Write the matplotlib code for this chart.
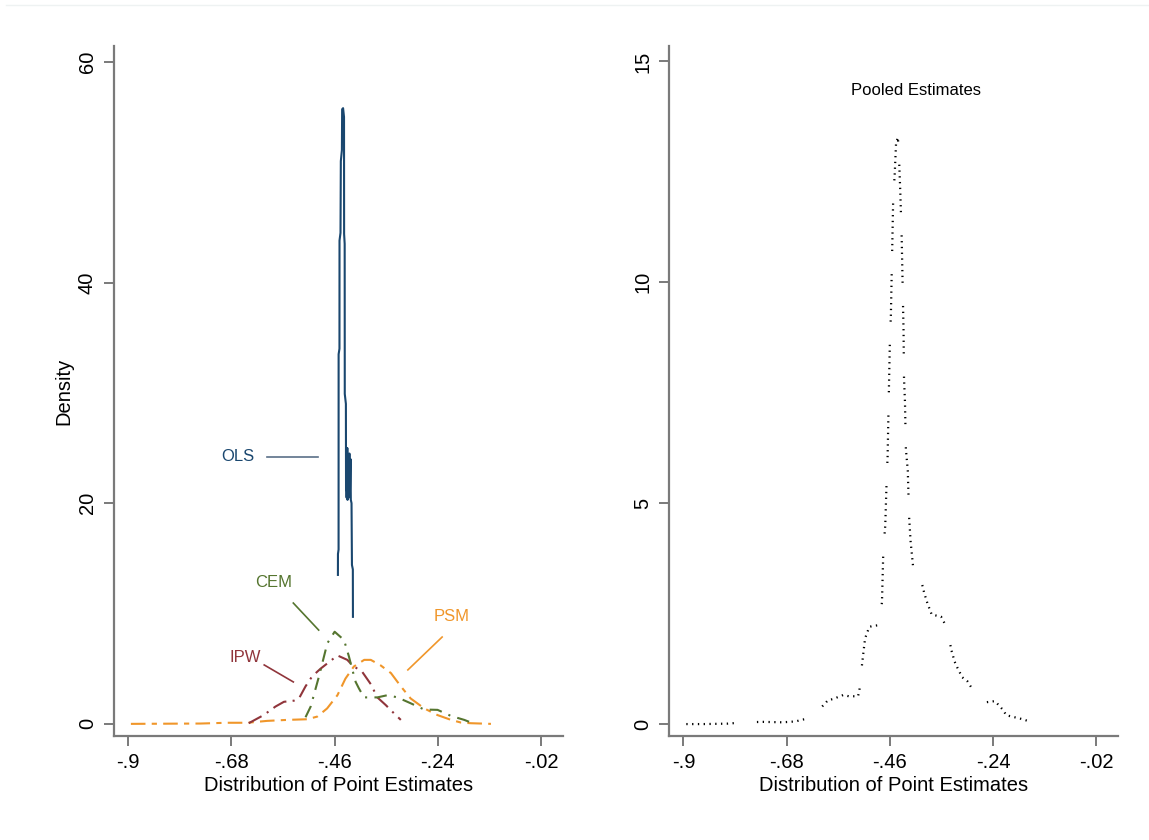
import matplotlib.pyplot as plt
from matplotlib.lines import Line2D

plt.rcParams['font.family'] = ['Liberation Sans', 'DejaVu Sans']

# --- data ---
ols_x = [-0.4530, -0.4529, -0.4516, -0.4515, -0.4497, -0.4496, -0.4475, -0.4468,
         -0.4445, -0.4440, -0.4420, -0.4400, -0.4398, -0.4386, -0.4384, -0.4360,
         -0.4357, -0.4350, -0.4345, -0.4340, -0.4336, -0.4330, -0.4325, -0.4320,
         -0.4300, -0.4285, -0.4275, -0.4262, -0.4255, -0.4240, -0.4231, -0.4212, -0.4210]
ols_y = [13.5, 15.4, 15.8, 33.5, 34.0, 43.8, 44.5, 51.0,
         52.0, 55.7, 55.8, 55.0, 44.4, 43.5, 29.9, 29.0,
         21.2, 25.0, 20.5, 24.5, 21.0, 25.0, 20.3, 24.0,
         20.5, 24.5, 20.8, 24.0, 20.3, 20.0, 14.4, 14.0, 9.7]

cem_x = [-0.522, -0.511, -0.4935, -0.4756, -0.460, -0.440, -0.4295, -0.4222, -0.4152,
         -0.4081, -0.3974, -0.3831, -0.3688, -0.3475, -0.3261, -0.2977, -0.2693,
         -0.2407, -0.2123, -0.1838, -0.1695]
cem_y = [0.6, 1.57, 4.28, 7.3, 8.35, 7.6, 6.1, 4.9, 3.8,
         3.2, 2.4, 2.4, 2.4, 2.6, 2.4, 1.86, 1.3,
         1.27, 0.72, 0.36, 0.12]

ipw_x = [-0.643, -0.611, -0.586, -0.568, -0.547, -0.536, -0.522, -0.508, -0.490,
         -0.472, -0.454, -0.433, -0.422, -0.401, -0.383, -0.369, -0.351, -0.333, -0.319]
ipw_y = [0.06, 0.8, 1.57, 2.0, 2.1, 2.3, 3.4, 4.3, 5.0,
         5.6, 6.2, 5.8, 5.3, 4.7, 3.6, 2.4, 1.7, 0.93, 0.36]

psm_x = [-0.894, -0.800, -0.746, -0.690, -0.646, -0.604, -0.561, -0.518, -0.497,
         -0.476, -0.454, -0.437, -0.419, -0.397, -0.383, -0.362, -0.340, -0.319,
         -0.298, -0.269, -0.241, -0.212, -0.191, -0.170, -0.127]
psm_y = [0.0, 0.02, 0.03, 0.1, 0.1, 0.27, 0.36, 0.42, 0.66,
         1.4, 2.6, 4.1, 5.2, 5.8, 5.8, 5.3, 4.6, 3.4,
         2.3, 1.4, 0.8, 0.36, 0.12, 0.06, 0.0]

pool_x = [-0.894, -0.883, -0.871, -0.859, -0.806, -0.770, -0.730, -0.689, -0.661,
          -0.647, -0.636, -0.626, -0.592, -0.580, -0.569, -0.559, -0.548, -0.528,
          -0.525, -0.523, -0.520, -0.516, -0.513, -0.504, -0.497, -0.483, -0.477,
          -0.474, -0.470, -0.467, -0.465, -0.463, -0.462, -0.460, -0.458, -0.456,
          -0.455, -0.453, -0.450, -0.447, -0.443, -0.440, -0.438, -0.435, -0.434,
          -0.432, -0.431, -0.430, -0.428, -0.426, -0.422, -0.419, -0.416, -0.410,
          -0.396, -0.387, -0.380, -0.371, -0.351, -0.344, -0.336, -0.329, -0.322,
          -0.316, -0.306, -0.295, -0.283, -0.258, -0.236, -0.219, -0.212, -0.177,
          -0.166]
pool_y = [0.0, 0.0, 0.0, 0.0, 0.01, 0.04, 0.05, 0.04, 0.06,
          0.1, 0.12, 0.15, 0.54, 0.57, 0.62, 0.66, 0.63, 0.63,
          0.77, 1.0, 1.3, 1.67, 1.94, 2.2, 2.22, 2.24, 2.76,
          3.97, 4.49, 5.53, 6.05, 7.13, 7.69, 8.73, 9.25, 10.33,
          10.85, 11.93, 12.41, 13.14, 13.28, 12.63, 12.06, 11.02, 10.5,
          9.42, 8.9, 7.82, 7.3, 6.22, 5.74, 4.66, 4.14, 3.49,
          3.36, 2.97, 2.73, 2.48, 2.43, 2.29, 2.05, 1.67, 1.41,
          1.27, 1.06, 0.97, 0.77, 0.49, 0.52, 0.32, 0.2, 0.11,
          0.07]

xticks = [-0.9, -0.68, -0.46, -0.24, -0.02]
xtick_labels = ['-.9', '-.68', '-.46', '-.24', '-.02']
left_yticks = [0, 20, 40, 60]
right_yticks = [0, 5, 10, 15]

navy = '#1a476f'
maroon = '#90353b'
green = '#55752f'
orange = '#f0962a'
spine_col = '#7a7a7a'


def style_axes(ax, yticks, ylim):
    ax.set_xlim(-0.931, 0.026)
    ax.set_ylim(*ylim)
    ax.set_xticks(xticks)
    ax.set_xticklabels(xtick_labels)
    ax.set_yticks(yticks)
    ax.set_yticklabels([str(t) for t in yticks], rotation=90, va='center')
    for s in ['top', 'right']:
        ax.spines[s].set_visible(False)
    for s in ['left', 'bottom']:
        ax.spines[s].set_color(spine_col)
        ax.spines[s].set_linewidth(1.6)
    ax.tick_params(colors=spine_col, labelcolor='black', width=1.4, length=7,
                   labelsize=14.5, pad=5)
    ax.set_xlabel('Distribution of Point Estimates', fontsize=14.5, labelpad=3)


fig = plt.figure(figsize=(11.49, 8.4), dpi=100)
fig.add_artist(Line2D([0.005, 1.0], [1 - 5 / 840, 1 - 5 / 840], color='#eef2f2', lw=1))

ax1 = fig.add_axes([0.0988, 0.1238, 0.391, 0.821])
ax2 = fig.add_axes([0.5822, 0.1238, 0.3908, 0.821])

# left panel: per-method densities
ax1.plot(psm_x, psm_y, color=orange, lw=1.5, dashes=(7, 3, 2.5, 3))
ax1.plot(ipw_x, ipw_y, color=maroon, lw=1.5, dashes=(7, 3, 1, 3))
ax1.plot(cem_x, cem_y, color=green, lw=1.5, dashes=(6, 3.5, 1, 3.5))
ax1.plot(ols_x, ols_y, color=navy, lw=1.5)

ax1.text(-0.667, 24.2, 'OLS', color=navy, fontsize=12, ha='center', va='center')
ax1.plot([-0.605, -0.496], [24.2, 24.2], color='#5a6f88', lw=1.2)
ax1.text(-0.590, 12.8, 'CEM', color=green, fontsize=12, ha='center', va='center')
ax1.plot([-0.548, -0.494], [10.95, 8.5], color=green, lw=1.2)
ax1.text(-0.650, 6.06, 'IPW', color=maroon, fontsize=12, ha='center', va='center')
ax1.plot([-0.610, -0.548], [5.34, 3.8], color=maroon, lw=1.2)
ax1.text(-0.210, 9.77, 'PSM', color=orange, fontsize=12, ha='center', va='center')
ax1.plot([-0.231, -0.304], [7.87, 4.89], color=orange, lw=1.2)

style_axes(ax1, left_yticks, (-1.1, 61.4))
ax1.set_ylabel('Density', fontsize=14.5, labelpad=3)

# right panel: pooled estimates
dot_pattern = [0.6, 2.0] * 8 + [0.6, 10.4]
ax2.plot(pool_x, pool_y, color='black', lw=1.6, dashes=dot_pattern)
ax2.text(-0.404, 14.34, 'Pooled Estimates', fontsize=12, ha='center', va='center')
style_axes(ax2, right_yticks, (-0.27, 15.34))

fig.savefig('out.png', dpi=100)
